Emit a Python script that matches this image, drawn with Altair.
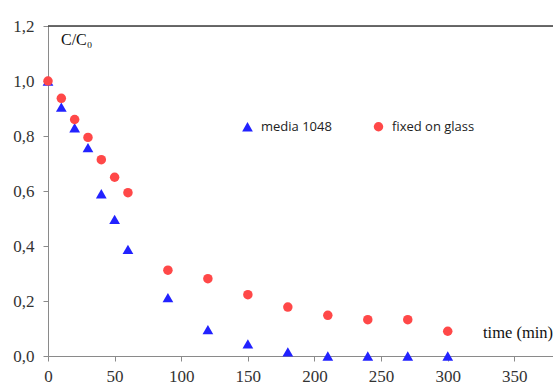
import altair as alt
import pandas as pd

# Sampling times (min) and normalised concentration C/C0 for the two setups
time_min = [0, 10, 20, 30, 40, 50, 60, 90, 120, 150, 180, 210, 240, 270, 300]
media_1048 = [1.0, 0.905, 0.83, 0.758, 0.59, 0.497, 0.388, 0.212, 0.096, 0.044, 0.015, 0.0, 0.0, 0.0, 0.0]
fixed_on_glass = [1.0, 0.937, 0.86, 0.795, 0.714, 0.65, 0.594, 0.312, 0.281, 0.223, 0.178, 0.148, 0.132, 0.132, 0.09]

series_names = ["media 1048", "fixed on glass"]
series_colors = ["#2222ff", "#ff4848"]
series_shapes = ["triangle-up", "circle"]
series_sizes = [115, 90]

x_ticks = [0, 50, 100, 150, 200, 250, 300, 350]
y_ticks = [0.0, 0.2, 0.4, 0.6, 0.8, 1.0, 1.2]

rows = []
for name, values in zip(series_names, [media_1048, fixed_on_glass]):
    for t, v in zip(time_min, values):
        rows.append({"time": t, "ratio": v, "series": name, "order": series_names.index(name)})
df = pd.DataFrame(rows)

W, H = 505, 330
serif = "Liberation Serif"

x_scale = alt.Scale(domain=[0, 379], nice=False, zero=True)
y_scale = alt.Scale(domain=[0, 1.2], nice=False)

points = alt.Chart(df).mark_point(filled=True, opacity=1).encode(
    x=alt.X("time:Q", scale=x_scale, title=None,
            axis=alt.Axis(values=x_ticks, labelPadding=7, labelFlush=False)),
    y=alt.Y("ratio:Q", scale=y_scale, title=None,
            axis=alt.Axis(values=y_ticks, labelPadding=9,
                          labelExpr="replace(format(datum.value, '.1f'), '.', ',')")),
    color=alt.Color("series:N", scale=alt.Scale(domain=series_names, range=series_colors),
                    legend=alt.Legend(title=None, orient="none", direction="horizontal",
                                      legendX=193, legendY=94, labelFont="Open Sans",
                                      labelFontSize=13, labelColor="#222222",
                                      symbolSize=75, columnPadding=40, labelOffset=7)),
    shape=alt.Shape("series:N", scale=alt.Scale(domain=series_names, range=series_shapes),
                    legend=None),
    size=alt.Size("series:N", scale=alt.Scale(domain=series_names, range=series_sizes),
                  legend=None),
    order=alt.Order("order:Q"),
)

# Dark frame line along the top of the plot area
top_line = alt.Chart(pd.DataFrame({"y": [1.2]})).mark_rule(color="#3a3a3a", strokeWidth=1.6).encode(
    y=alt.Y("y:Q", scale=y_scale), x=alt.value(0), x2=alt.value(W)
)

ylabel = alt.Chart(pd.DataFrame({"t": ["C/C₀"]})).mark_text(
    font=serif, fontSize=16, color="#111111", align="left", baseline="middle"
).encode(text="t:N", x=alt.value(13), y=alt.value(14))

xlabel = alt.Chart(pd.DataFrame({"t": ["time (min)"]})).mark_text(
    font=serif, fontSize=16.5, color="#111111", align="left", baseline="middle"
).encode(text="t:N", x=alt.value(435), y=alt.value(307))

chart = alt.layer(points, top_line, ylabel, xlabel).properties(
    width=W, height=H,
    autosize=alt.AutoSizeParams(type="none"),
    padding={"left": 48, "top": 26, "right": 0, "bottom": 29},
).configure_view(stroke=None).configure(background="white").configure_axis(
    grid=False, domainColor="#8a8a8a", tickColor="#8a8a8a", tickSize=5,
    labelFont=serif, labelFontSize=17, labelColor="#333333",
)

chart.save("out.html", embed_options={"renderer": "svg", "actions": False})
